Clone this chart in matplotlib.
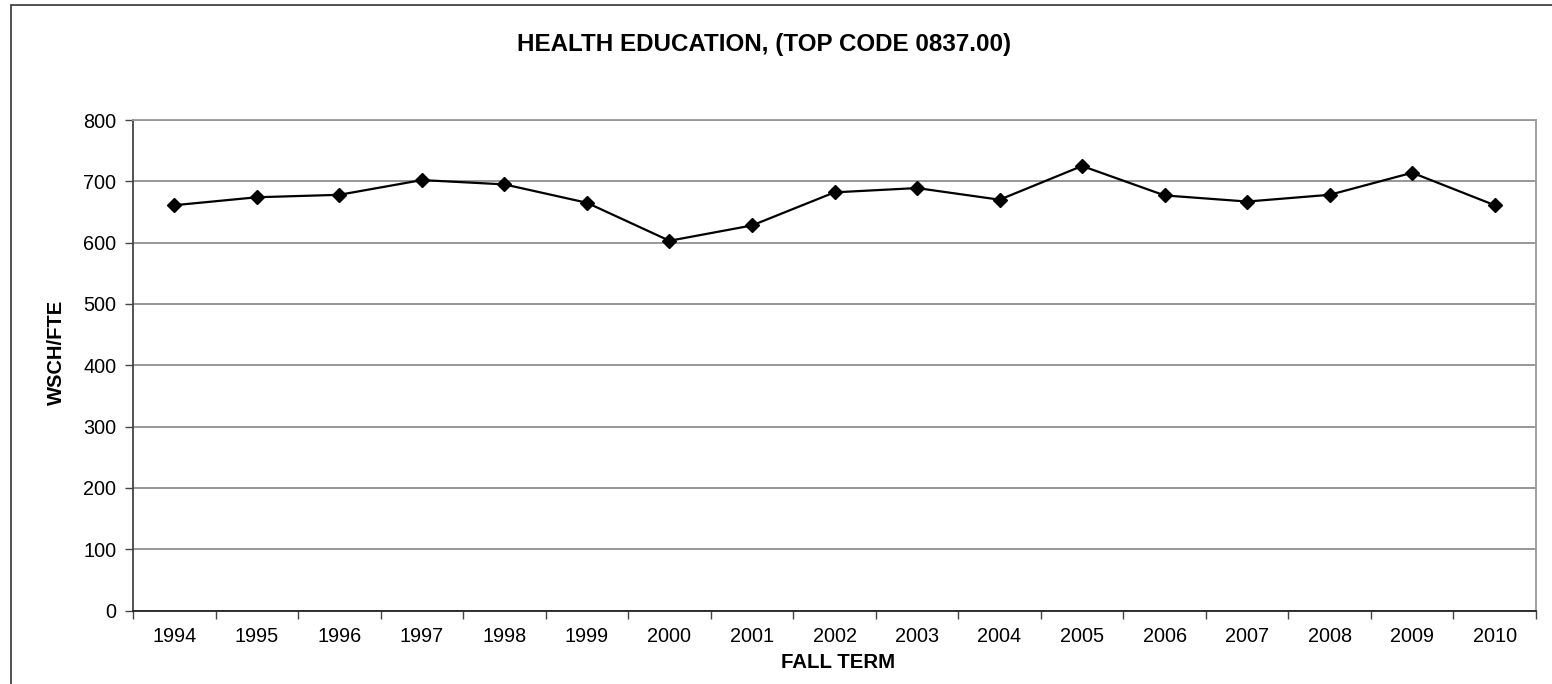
import numpy as np
import matplotlib as mpl
mpl.use('Agg')
import matplotlib.pyplot as plt
from matplotlib.patches import Rectangle

plt.rcParams['font.family'] = ['Liberation Sans', 'DejaVu Sans']

years = ['1994', '1995', '1996', '1997', '1998', '1999', '2000', '2001', '2002',
         '2003', '2004', '2005', '2006', '2007', '2008', '2009', '2010']
wsch_fte = [661, 674, 678, 702, 695, 665, 603, 628, 682,
            689, 670, 725, 677, 667, 678, 714, 661]

fig = plt.figure(figsize=(15.52, 6.84), dpi=100)
ax = fig.add_axes([133/1552, 1 - 610.5/684, (1536-133)/1552, (610.5-120)/684])

# outer chart border (runs off the right and bottom of the image)
fig.patches.append(Rectangle((11/1552, -0.1), 1.2, 1 - 5/684 + 0.1,
                             transform=fig.transFigure, fill=False,
                             edgecolor='#333333', linewidth=1.2))

x = np.arange(len(years))
ax.plot(x, wsch_fte, color='black', linewidth=1.6, marker='D', markersize=6.8,
        markerfacecolor='black', markeredgecolor='black', zorder=3)

ax.set_xlim(-0.5, len(years) - 0.5)
ax.set_ylim(0, 800)
ax.set_yticks(range(0, 801, 100))
ax.yaxis.grid(True, color='#7a7a7a', linewidth=1.1)
ax.set_axisbelow(True)

ax.set_xticks(np.arange(-0.5, len(years), 1))
ax.set_xticklabels([])
ax.set_xticks(x, minor=True)
ax.set_xticklabels(years, minor=True)
ax.tick_params(axis='x', which='minor', length=0, pad=12, labelsize=14.3)
ax.tick_params(axis='x', which='major', length=6, width=1, color='#444444', direction='out')
ax.tick_params(axis='y', length=6, width=1, color='#444444', labelsize=14.3, pad=6)

ax.spines['left'].set_color('#444444')
ax.spines['bottom'].set_color('#222222')
ax.spines['right'].set_color('#999999')
ax.spines['top'].set_color('#999999')
for s in ax.spines.values():
    s.set_linewidth(1.3)

fig.text(764/1552, 1 - 45/684, 'HEALTH EDUCATION, (TOP CODE 0837.00)',
         ha='center', va='center', fontsize=17.4, fontweight='bold')
fig.text(838/1552, 1 - 663/684, 'FALL TERM', ha='center', va='center',
         fontsize=14.7, fontweight='bold')
fig.text(56/1552, 1 - 352/684, 'WSCH/FTE', ha='center', va='center',
         rotation=90, fontsize=14.5, fontweight='bold')

fig.savefig('out.png', dpi=100)
plt.close(fig)
